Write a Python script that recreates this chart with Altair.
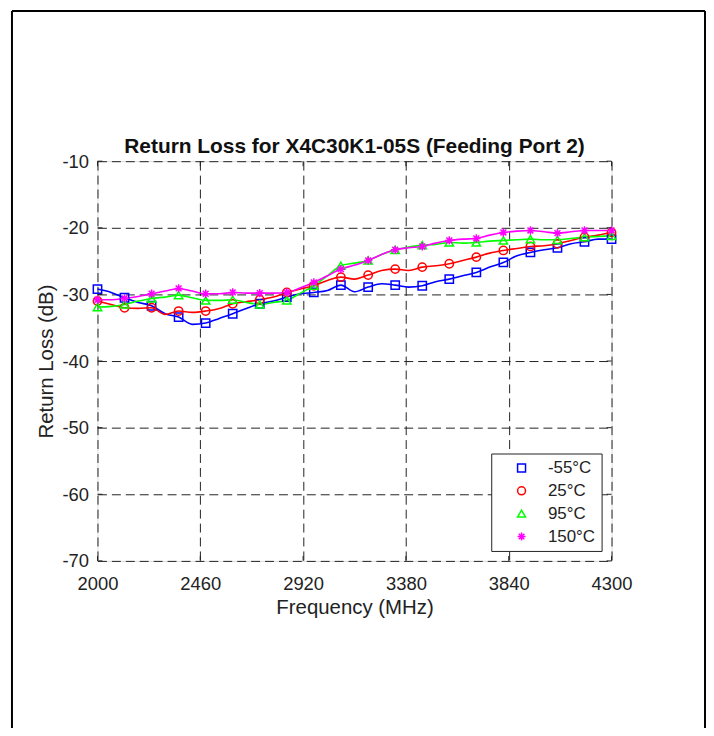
import altair as alt
import pandas as pd

# ---------------- data ----------------
series = ["-55°C", "25°C", "95°C", "150°C"]
colors = ["#0000ff", "#ff0000", "#00ff00", "#ff00ff"]

marker_freq = [2000, 2121, 2242, 2363, 2484, 2605, 2726, 2847, 2968, 3089,
               3211, 3332, 3453, 3574, 3695, 3816, 3937, 4058, 4179, 4300]

line_freq = [2000, 2061, 2121, 2182, 2242, 2303, 2363, 2424, 2484, 2545,
             2605, 2666, 2726, 2787, 2847, 2908, 2968, 3029, 3089, 3150,
             3211, 3271, 3332, 3392, 3453, 3513, 3574, 3634, 3695, 3755,
             3816, 3877, 3937, 3998, 4058, 4119, 4179, 4240, 4300]

m55_line = [-29.2, -29.7, -30.5, -31.2, -31.7, -32.9, -33.4, -34.5, -34.3, -33.6,
            -32.9, -32.1, -31.4, -31.0, -30.4, -29.9, -29.7, -29.4, -28.6, -29.6,
            -28.9, -28.4, -28.6, -28.9, -28.7, -28.1, -27.7, -27.2, -26.7, -25.9,
            -25.2, -24.2, -23.7, -23.3, -23.0, -22.4, -22.1, -21.7, -21.7]
p25_line = [-31.0, -31.5, -32.0, -32.1, -32.0, -33.0, -32.5, -32.7, -32.5, -32.1,
            -31.4, -31.1, -30.8, -30.4, -29.7, -29.2, -28.7, -27.9, -27.4, -27.7,
            -27.1, -26.4, -26.2, -26.4, -25.9, -25.7, -25.4, -24.9, -24.4, -23.8,
            -23.4, -23.1, -22.8, -22.7, -22.4, -21.9, -21.4, -21.1, -20.7]
p95_line = [-31.9, -31.8, -31.5, -31.0, -30.6, -30.4, -30.1, -30.5, -30.9, -30.9,
            -30.8, -31.2, -31.5, -31.2, -30.9, -29.8, -28.7, -27.2, -25.7, -25.3,
            -24.9, -24.0, -23.3, -22.9, -22.6, -22.5, -22.2, -22.3, -22.2, -22.0,
            -21.9, -21.8, -21.7, -21.8, -21.8, -21.6, -21.4, -21.3, -21.2]
p150_line = [-30.8, -30.8, -30.6, -30.3, -29.9, -29.5, -29.1, -29.5, -29.9, -29.9,
             -29.7, -29.8, -29.8, -29.8, -29.7, -29.0, -28.2, -27.2, -26.2, -25.6,
             -24.9, -24.0, -23.3, -23.0, -22.8, -22.3, -21.9, -21.7, -21.6, -21.1,
             -20.7, -20.5, -20.4, -20.6, -20.8, -20.6, -20.4, -20.4, -20.4]

m55_mark = [-29.2, -30.5, -31.7, -33.4, -34.3, -32.9, -31.4, -30.4, -29.7, -28.6,
            -28.9, -28.6, -28.7, -27.7, -26.7, -25.2, -23.7, -23.0, -22.1, -21.7]
p25_mark = [-31.0, -32.0, -32.0, -32.5, -32.5, -31.4, -30.8, -29.7, -28.7, -27.4,
            -27.1, -26.2, -25.9, -25.4, -24.4, -23.4, -22.8, -22.4, -21.4, -20.7]
p95_mark = [-31.9, -31.5, -30.6, -30.1, -30.9, -30.8, -31.5, -30.9, -28.7, -25.7,
            -24.9, -23.3, -22.6, -22.2, -22.2, -21.9, -21.7, -21.8, -21.4, -21.2]
p150_mark = [-30.8, -30.6, -29.9, -29.1, -29.9, -29.7, -29.8, -29.7, -28.2, -26.2,
             -24.9, -23.3, -22.8, -21.9, -21.6, -20.7, -20.4, -20.8, -20.4, -20.4]

x_ticks = [2000, 2460, 2920, 3380, 3840, 4300]
y_ticks = [-70, -60, -50, -40, -30, -20, -10]

title_text = "Return Loss for X4C30K1-05S (Feeding Port 2)"
x_title = "Frequency (MHz)"
y_title = "Return Loss (dB)"

# ---------------- tables ----------------
line_rows = []
for name, vals in zip(series, [m55_line, p25_line, p95_line, p150_line]):
    for f, v in zip(line_freq, vals):
        line_rows.append({"f": f, "rl": v, "T": name})
line_df = pd.DataFrame(line_rows)

mark_rows = []
for name, vals in zip(series, [m55_mark, p25_mark, p95_mark, p150_mark]):
    for f, v in zip(marker_freq, vals):
        mark_rows.append({"f": f, "rl": v, "T": name})
mark_df = pd.DataFrame(mark_rows)

W, H = 517, 402
FONT = "Liberation Sans"
TXT = "#222222"
asterisk = "M0,-1L0,1M-1,0L1,0M-0.7,-0.7L0.7,0.7M-0.7,0.7L0.7,-0.7"

xs = alt.Scale(domain=[2000, 4300], nice=False, zero=False)
ys = alt.Scale(domain=[-70, -10], nice=False, zero=False)
cs = alt.Scale(domain=series, range=colors)
ss = alt.Scale(domain=series, range=["square", "circle", "triangle-up", asterisk])

x_axis = alt.Axis(values=x_ticks, title=x_title, grid=True, gridDash=[9, 5],
                  gridColor=TXT, gridWidth=1, ticks=False, domain=False,
                  labelFontSize=18.5, labelFont=FONT, labelColor=TXT,
                  labelPadding=14, labelFlush=False, labelOverlap=False,
                  labelExpr="datum.value + ''",
                  titleFontSize=20.5, titleFont=FONT, titleFontWeight="normal",
                  titleColor=TXT, titlePadding=4)
y_axis = alt.Axis(values=y_ticks, title=y_title, grid=True, gridDash=[9, 5],
                  gridColor=TXT, gridWidth=1, ticks=False, domain=False,
                  labelFontSize=18.5, labelFont=FONT, labelColor=TXT,
                  labelPadding=9, labelFlush=False, labelOverlap=False,
                  labelExpr="datum.value + ''",
                  titleFontSize=20.5, titleFont=FONT, titleFontWeight="normal",
                  titleColor=TXT, titlePadding=6)

lines = alt.Chart(line_df).mark_line(strokeWidth=1.6, interpolate="monotone").encode(
    x=alt.X("f:Q", scale=xs, axis=x_axis),
    y=alt.Y("rl:Q", scale=ys, axis=y_axis),
    color=alt.Color("T:N", scale=cs, legend=None),
    detail="T:N",
)

leg = alt.Legend(title=None, orient="none", legendX=396, legendY=294,
                 direction="vertical", fillColor="white", strokeColor=TXT,
                 padding=6, rowPadding=5, symbolOffset=16, labelOffset=18,
                 labelFontSize=17, labelFont=FONT, labelColor=TXT,
                 symbolSize=64, symbolStrokeWidth=1.5, symbolFillColor="transparent",
                 labelLimit=200)

points = alt.Chart(mark_df).mark_point(filled=False, size=70, strokeWidth=1.5, opacity=1).encode(
    x=alt.X("f:Q", scale=xs),
    y=alt.Y("rl:Q", scale=ys),
    color=alt.Color("T:N", scale=cs, legend=leg),
    shape=alt.Shape("T:N", scale=ss, legend=leg),
)

# inward ticks on all four sides
xt_df = pd.DataFrame({"f": x_ticks})
yt_df = pd.DataFrame({"rl": y_ticks})
xt_bot = alt.Chart(xt_df).mark_rule(color=TXT, strokeWidth=1).encode(
    x=alt.X("f:Q", scale=xs), y=alt.value(H), y2=alt.value(H - 5))
xt_top = alt.Chart(xt_df).mark_rule(color=TXT, strokeWidth=1).encode(
    x=alt.X("f:Q", scale=xs), y=alt.value(0), y2=alt.value(5))
yt_left = alt.Chart(yt_df).mark_rule(color=TXT, strokeWidth=1).encode(
    y=alt.Y("rl:Q", scale=ys), x=alt.value(0), x2=alt.value(5))
yt_right = alt.Chart(yt_df).mark_rule(color=TXT, strokeWidth=1).encode(
    y=alt.Y("rl:Q", scale=ys), x=alt.value(W), x2=alt.value(W - 5))

# chart title as a text mark above the plot
title_df = pd.DataFrame({"t": [title_text]})
title_mark = alt.Chart(title_df).mark_text(
    font=FONT, fontSize=21, fontWeight="bold", color="#111111",
    align="center", baseline="middle").encode(
    text="t:N", x=alt.value(W / 2), y=alt.value(-14))

# figure frame (outer border of the exported figure)
one = pd.DataFrame({"k": [0]})
frame_l = alt.Chart(one).mark_rule(color="black", strokeWidth=2).encode(
    x=alt.value(-86), y=alt.value(-151), y2=alt.value(570))
frame_t = alt.Chart(one).mark_rule(color="black", strokeWidth=2).encode(
    x=alt.value(-86), x2=alt.value(611), y=alt.value(-151))
frame_r = alt.Chart(one).mark_rule(color="black", strokeWidth=2).encode(
    x=alt.value(611), y=alt.value(-151), y2=alt.value(570))

chart = alt.layer(
    lines, points, xt_bot, xt_top, yt_left, yt_right, title_mark,
    frame_l, frame_t, frame_r
).resolve_legend(
    color="independent", shape="independent"
).properties(
    width=W, height=H,
    autosize=alt.AutoSizeParams(type="none"),
    padding={"left": 90, "top": 152, "right": 95, "bottom": 166},
).configure_view(
    stroke=TXT, strokeWidth=1
).configure(background="white")

chart.save("out.html", embed_options={"renderer": "svg", "actions": False})
